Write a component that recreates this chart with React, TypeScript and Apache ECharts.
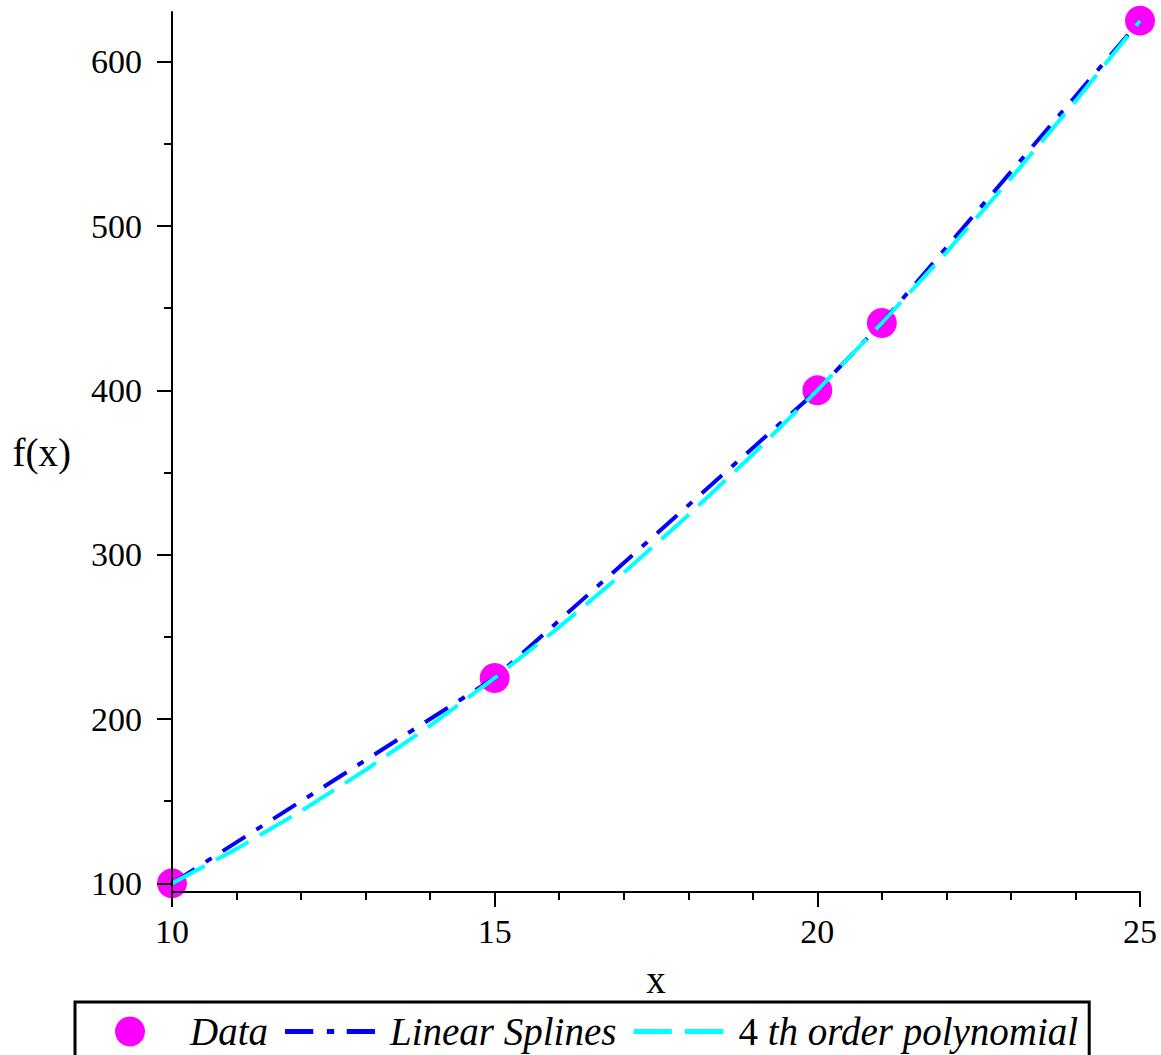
import React, { useEffect, useRef } from "react";
import * as echarts from "echarts";

// Data points
const dataX = [10, 15, 20, 21, 25];
const dataY = [100, 225, 400, 441, 625];

// 4th order polynomial curve at unit steps
const polyX = [10, 11, 12, 13, 14, 15, 16, 17, 18, 19, 20, 21, 22, 23, 24, 25];
const polyY = [100, 121, 144, 169, 196, 225, 256, 289, 324, 361, 400, 441, 484, 529, 576, 625];

// Axis ticks
const yMajorTicks = [100, 200, 300, 400, 500, 600];
const yMinorTicks = [150, 250, 350, 450, 550];
const xMin = 10;
const xMax = 25;
const yMin = 94.75;
const yMax = 630.25;

const seriesNames = ["Data", "Linear Splines", "4 th order polynomial"];

const FONT = "Liberation Serif";

export default function App() {
  const ref = useRef<HTMLDivElement>(null);

  useEffect(() => {
    document.body.style.margin = "0";
    if (!ref.current) return;
    const chart = echarts.init(ref.current, undefined, { renderer: "svg" });

    const pairs = (xs: number[], ys: number[]) => xs.map((x, i) => [x, ys[i]]);

    const option: any = {
      animation: false,
      backgroundColor: "#ffffff",
      textStyle: { fontFamily: FONT },
      grid: { left: 172, right: 21, top: 12, bottom: 163, containLabel: false },
      xAxis: {
        type: "value",
        min: xMin,
        max: xMax,
        interval: 5,
        z: 5,
        name: "x",
        nameLocation: "middle",
        nameGap: 68,
        nameTextStyle: { fontFamily: FONT, fontSize: 39, color: "#000" },
        axisLine: { onZero: false, lineStyle: { color: "#000", width: 2 } },
        axisTick: { show: true, inside: false, length: 15, lineStyle: { color: "#000", width: 2 } },
        minorTick: { show: true, splitNumber: 5, length: 8, lineStyle: { color: "#000", width: 2 } },
        axisLabel: { fontFamily: FONT, fontSize: 34, color: "#000", margin: 22 },
        splitLine: { show: false },
      },
      yAxis: [
        {
          type: "value",
          min: yMin,
          max: yMax,
          z: 5,
          name: "f(x)",
          nameLocation: "middle",
          nameRotate: 0,
          nameGap: 101,
          nameTextStyle: { fontFamily: FONT, fontSize: 39, color: "#000", padding: [10, 0, 0, 0] },
          axisLine: { show: true, onZero: false, lineStyle: { color: "#000", width: 2 } },
          axisTick: {
            show: true,
            inside: false,
            length: 15,
            customValues: yMajorTicks,
            lineStyle: { color: "#000", width: 2 },
          },
          axisLabel: {
            fontFamily: FONT,
            fontSize: 34,
            color: "#000",
            margin: 30,
            customValues: yMajorTicks,
          },
          splitLine: { show: false },
        },
        {
          type: "value",
          min: yMin,
          max: yMax,
          position: "left",
          z: 5,
          axisLine: { show: false, onZero: false },
          axisTick: {
            show: true,
            inside: false,
            length: 8,
            customValues: yMinorTicks,
            lineStyle: { color: "#000", width: 2 },
          },
          axisLabel: { show: false },
          splitLine: { show: false },
        },
      ],
      legend: {
        left: 75,
        top: 1002,
        orient: "horizontal",
        itemWidth: 90,
        itemHeight: 30,
        itemGap: 17,
        padding: [10, 11, 20, 40],
        borderColor: "#000",
        borderWidth: 3,
        borderRadius: 0,
        selectedMode: false,
        data: [
          { name: seriesNames[0], icon: "circle" },
          { name: seriesNames[1], icon: "path://M0,0h27v5h-27z M40,0h7v5h-7z M59,0h27v5h-27z" },
          { name: seriesNames[2], icon: "path://M0,0h38v5h-38z M51,0h38v5h-38z" },
        ],
        formatter: (name: string) =>
          name === seriesNames[2] ? "{s|}{n|4 }{i|th order polynomial}" : "{s|}{i|" + name + "}",
        textStyle: {
          fontFamily: FONT,
          fontSize: 39,
          color: "#000",
          rich: {
            s: { width: 10 },
            i: { fontFamily: FONT, fontSize: 39, fontStyle: "italic", color: "#000" },
            n: { fontFamily: FONT, fontSize: 39, fontStyle: "normal", color: "#000" },
          },
        },
      },
      series: [
        {
          name: seriesNames[0],
          type: "scatter",
          data: pairs(dataX, dataY),
          symbol: "circle",
          symbolSize: 30,
          clip: false,
          itemStyle: { color: "#ff00ff", opacity: 1 },
          z: 2,
        },
        {
          name: seriesNames[1],
          type: "line",
          data: pairs(dataX, dataY),
          showSymbol: false,
          symbol: "none",
          clip: false,
          itemStyle: { color: "#0000ff" },
          lineStyle: { color: "#0000ff", width: 4, type: [27, 13, 7, 13] },
          z: 3,
        },
        {
          name: seriesNames[2],
          type: "line",
          data: pairs(polyX, polyY),
          showSymbol: false,
          symbol: "none",
          clip: false,
          smooth: false,
          itemStyle: { color: "#00ffff" },
          lineStyle: { color: "#00ffff", width: 4, type: [37, 13] },
          z: 4,
        },
      ],
    };

    chart.setOption(option);
    return () => {
      chart.dispose();
    };
  }, []);

  return <div ref={ref} style={{ width: 1161, height: 1055 }} />;
}
